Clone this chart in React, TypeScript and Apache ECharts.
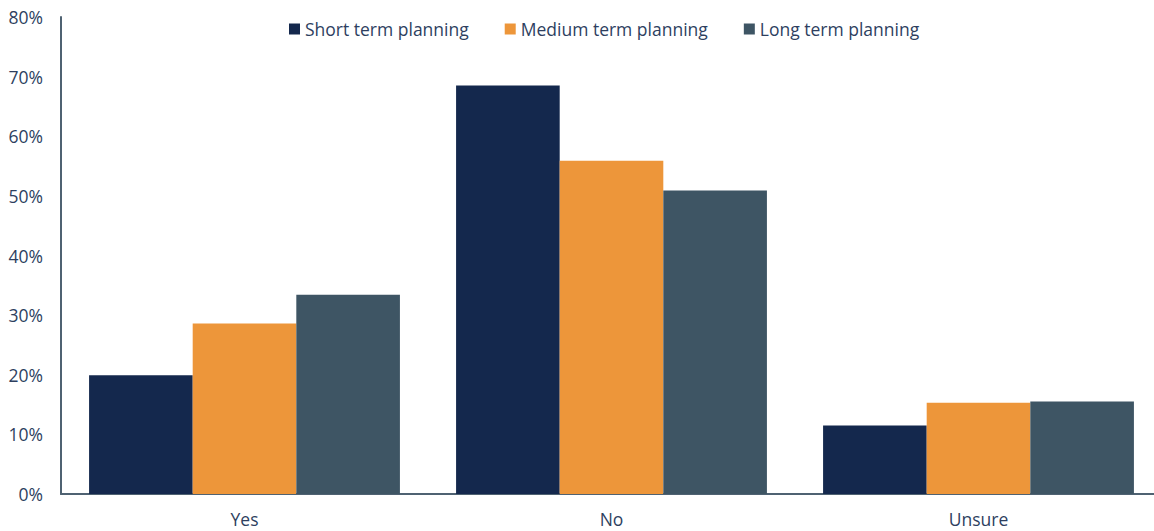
import React, { useEffect, useRef } from "react";
import * as echarts from "echarts";

const categories = ["Yes", "No", "Unsure"];
const shortTerm = [19.9, 68.5, 11.5];
const mediumTerm = [28.6, 55.9, 15.3];
const longTerm = [33.4, 50.9, 15.5];
const seriesNames = ["Short term planning", "Medium term planning", "Long term planning"];
const colors = ["#14284d", "#ed963a", "#3e5564"];

const textColor = "#2e3f5f";
const axisColor = "#4f6272";
const font = "'Open Sans', 'Noto Sans', sans-serif";

export default function App() {
  const ref = useRef<HTMLDivElement>(null);
  useEffect(() => {
    if (!ref.current) return;
    const chart = echarts.init(ref.current, undefined, { renderer: "svg" });
    const values = [shortTerm, mediumTerm, longTerm];
    chart.setOption({
      animation: false,
      color: colors,
      textStyle: { fontFamily: font },
      legend: {
        left: 284,
        top: 15,
        itemWidth: 11,
        itemHeight: 11,
        itemGap: 36,
        icon: "rect",
        textStyle: { color: textColor, fontSize: 17.5, fontFamily: font },
        data: seriesNames,
      },
      grid: { left: 61, right: 0, top: 17, bottom: 37, containLabel: false },
      xAxis: {
        type: "category",
        data: categories,
        axisLine: { show: true, lineStyle: { color: axisColor, width: 2 } },
        axisTick: { show: false },
        axisLabel: { color: textColor, fontSize: 17.5, margin: 16, fontFamily: font },
      },
      yAxis: {
        type: "value",
        min: 0,
        max: 80,
        interval: 10,
        axisLine: { show: true, lineStyle: { color: axisColor, width: 2 } },
        axisTick: { show: false },
        splitLine: { show: false },
        axisLabel: {
          color: textColor,
          fontSize: 17.5,
          margin: 18,
          fontFamily: font,
          formatter: "{value}%",
        },
      },
      series: seriesNames.map((name, i) => ({
        name,
        type: "bar",
        data: values[i],
        barGap: "0%",
        barCategoryGap: "15.3%",
        itemStyle: { color: colors[i] },
      })),
    });
    return () => chart.dispose();
  }, []);
  return (
    <div style={{ position: "fixed", left: 0, top: 0, width: 1154, height: 531, overflow: "hidden", background: "#fff" }}>
      <div ref={ref} style={{ width: 1162, height: 531 }} />
    </div>
  );
}
